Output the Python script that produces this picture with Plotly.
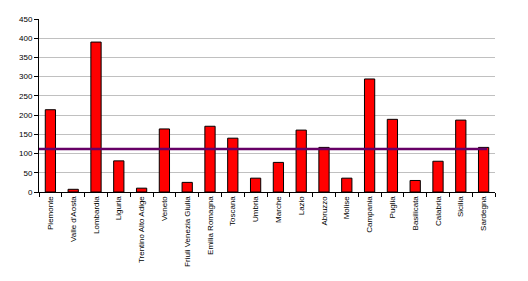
import plotly.graph_objects as go

regions = ["Piemonte", "Valle d'Aosta", "Lombardia", "Liguria", "Trentino Alto Adige",
           "Veneto", "Friuli Venezia Giulia", "Emilia Romagna", "Toscana", "Umbria",
           "Marche", "Lazio", "Abruzzo", "Molise", "Campania", "Puglia", "Basilicata",
           "Calabria", "Sicilia", "Sardegna"]
values = [214, 7, 390, 81, 10, 164, 25, 171, 140, 36,
          77, 161, 116, 36, 294, 189, 30, 80, 187, 116]
average = [112]
y_ticks = list(range(0, 451, 50))

fig = go.Figure()
fig.add_trace(go.Bar(
    x=regions, y=values, width=0.45,
    marker=dict(color="#ff0000", line=dict(color="#000000", width=1)),
    showlegend=False,
))
fig.add_shape(type="line", xref="x", yref="y", x0=-0.5, x1=19.15,
              y0=average[0], y1=average[0],
              line=dict(color="#660066", width=2.5))

fig.update_layout(
    width=528, height=281,
    margin=dict(l=39, r=33, t=19, b=89),
    paper_bgcolor="white", plot_bgcolor="white",
    font=dict(family="Liberation Sans, Arial, sans-serif", size=8, color="#000000"),
    bargap=0.55,
)
fig.update_xaxes(
    type="category", tickangle=-90, tickson="boundaries",
    ticks="outside", ticklen=4, tickcolor="#000000",
    showline=True, linecolor="#000000", linewidth=1,
    showgrid=False, tickfont=dict(size=8), range=[-0.5, 19.5],
)
fig.update_yaxes(
    range=[0, 450], tickvals=y_ticks, ticks="outside", ticklen=4,
    tickcolor="#000000", showline=True, linecolor="#000000", linewidth=1,
    showgrid=True, gridcolor="#c0c0c0", gridwidth=1, zeroline=False,
    tickfont=dict(size=8),
)
fig.write_html("out.html")
